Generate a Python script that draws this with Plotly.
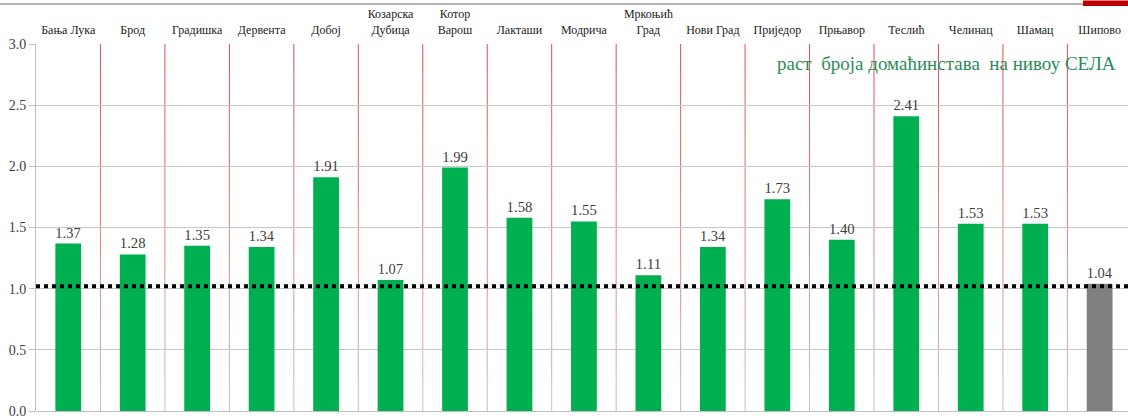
import plotly.graph_objects as go

categories = ["Бања Лука", "Брод", "Градишка", "Дервента", "Добој", "Козарска<br>Дубица",
              "Котор<br>Варош", "Лакташи", "Модрича", "Мркоњић<br>Град", "Нови Град",
              "Приједор", "Прњавор", "Теслић", "Челинац", "Шамац", "Шипово"]
values = [1.37, 1.28, 1.35, 1.34, 1.91, 1.07, 1.99, 1.58, 1.55, 1.11, 1.34, 1.73, 1.40, 2.41, 1.53, 1.53, 1.04]
bar_colors = ["#00b050"] * 16 + ["#7f7f7f"]
reference_level = 1.02
note_text = "раст  броја домаћинстава  на нивоу СЕЛА"

FONT = "Liberation Serif"

fig = go.Figure()
fig.add_trace(go.Bar(
    x=list(range(len(categories))), y=values,
    marker=dict(color=bar_colors, line=dict(width=0)),
    width=0.4,
    text=[f"{v:.2f}" for v in values], textposition="outside",
    textfont=dict(family=FONT, size=15, color="#404040"),
    cliponaxis=False, showlegend=False, hoverinfo="skip",
))

# vertical separators with a red-to-tan gradient
n_seg = 12
top_c = (225, 70, 80)
bot_c = (210, 195, 178)
for k in range(len(categories) - 1):
    xb = k + 0.5
    for s in range(n_seg):
        t = (s + 0.5) / n_seg
        c = tuple(int(top_c[i] * (1 - t) + bot_c[i] * t) for i in range(3))
        y1 = 3.0 - 3.0 * s / n_seg
        y0 = 3.0 - 3.0 * (s + 1) / n_seg
        fig.add_shape(type="line", x0=xb, x1=xb, y0=y0, y1=y1, xref="x", yref="y",
                      line=dict(color=f"rgb{c}", width=1), layer="below")

# dotted reference line
fig.add_shape(type="line", x0=0, x1=1, xref="paper", y0=reference_level, y1=reference_level,
              yref="y", line=dict(color="black", width=4, dash="dot"))

# decorative top line and red block
fig.add_shape(type="line", xref="paper", yref="paper", x0=-0.04, x1=(1083 - 36) / 1092,
              y0=(411 - 4) / 367, y1=(411 - 4) / 367, line=dict(color="#b4b4b4", width=2),
              layer="above")
fig.add_shape(type="rect", xref="paper", yref="paper", x0=(1083 - 36) / 1092, x1=1.0,
              y0=(411 - 6) / 367, y1=(411 - 0.5) / 367, line=dict(width=0),
              fillcolor="#c00000", layer="above")

fig.add_annotation(text=note_text, xref="paper", yref="paper",
                   x=(946 - 36) / 1092, y=(411 - 63) / 367, showarrow=False,
                   xanchor="center", yanchor="middle",
                   font=dict(family=FONT, size=19, color="#2e8b57"))

fig.update_layout(
    width=1128, height=416,
    margin=dict(l=36, r=0, t=44, b=5),
    paper_bgcolor="white", plot_bgcolor="white",
    bargap=0.6,
    font=dict(family=FONT, color="#333333"),
    xaxis=dict(side="top", tickmode="array", tickvals=list(range(len(categories))),
               ticktext=categories, range=[-0.5, 16.44], showgrid=False, showline=False,
               ticks="", automargin=False, ticklabelstandoff=7,
               tickfont=dict(family=FONT, size=12, color="#222222")),
    yaxis=dict(range=[0, 3.0], dtick=0.5, tickformat=".1f", showgrid=True,
               gridcolor="#c8c8c8", gridwidth=1, showline=True, linecolor="#bfbfbf",
               ticks="outside", ticklen=6, tickcolor="#bfbfbf", automargin=False,
               ticklabeloverflow="allow",
               zeroline=True, zerolinecolor="#bfbfbf", zerolinewidth=1,
               tickfont=dict(family=FONT, size=14, color="#404040")),
)

fig.write_html("out.html", config={"displayModeBar": False},
               post_script="document.body.style.margin='0';")
